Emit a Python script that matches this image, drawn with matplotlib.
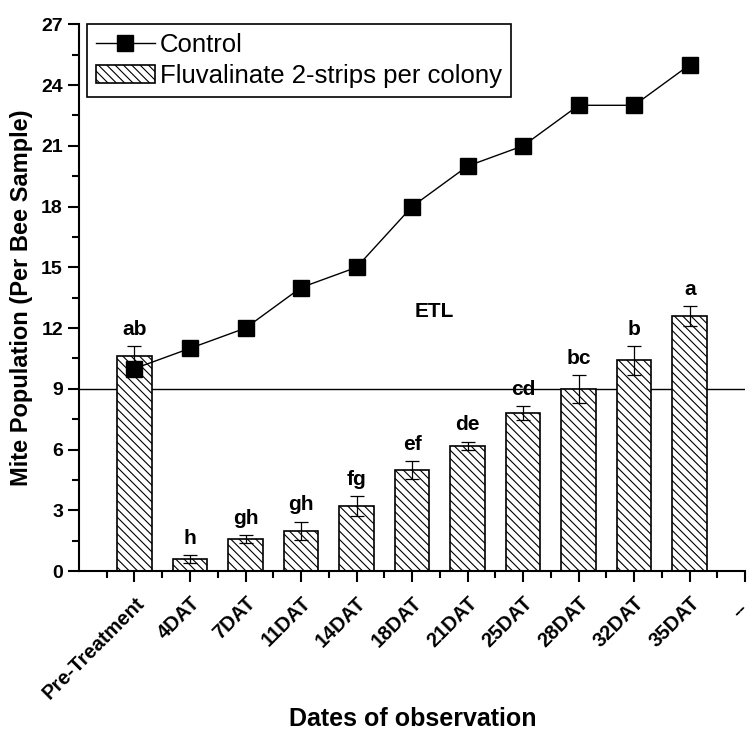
import matplotlib.pyplot as plt
import numpy as np

plt.rcParams['font.family'] = ['Liberation Sans', 'DejaVu Sans']
plt.rcParams['hatch.linewidth'] = 0.8

dates = ["Pre-Treatment", "4DAT", "7DAT", "11DAT", "14DAT", "18DAT",
         "21DAT", "25DAT", "28DAT", "32DAT", "35DAT", "--"]
control = [10, 11, 12, 14, 15, 18, 20, 21, 23, 23, 25]
fluvalinate = [10.6, 0.6, 1.6, 2.0, 3.2, 5.0, 6.2, 7.8, 9.0, 10.4, 12.6]
fluv_err = [0.5, 0.2, 0.2, 0.45, 0.5, 0.45, 0.2, 0.35, 0.7, 0.7, 0.5]
letters = ["ab", "h", "gh", "gh", "fg", "ef", "de", "cd", "bc", "b", "a"]
etl = 9

fig = plt.figure(figsize=(7.52, 7.36), dpi=100)
ax = fig.add_axes([0.105, 0.224, 0.886, 0.743])

x = np.arange(1, len(fluvalinate) + 1)
ax.plot(x, control, "-s", color="black", lw=1, ms=12, label="Control", zorder=4)
ax.bar(x, fluvalinate, width=0.62, color="white", edgecolor="black", hatch="\\\\\\\\",
       linewidth=1.2, label="Fluvalinate 2-strips per colony", zorder=2)
ax.errorbar(x, fluvalinate, yerr=fluv_err, fmt="none", ecolor="black",
            elinewidth=0.9, capsize=5, capthick=0.9, zorder=3)
ax.axhline(etl, color="black", lw=1, zorder=1)
ax.text(6.4, 12.8, "ETL", fontsize=15, fontweight="bold", ha="center", va="center")

for xi, v, e, lab in zip(x, fluvalinate, fluv_err, letters):
    ax.text(xi, v + e + 0.35, lab, fontsize=15, fontweight="bold", ha="center", va="bottom")

ax.set_xlim(0, 12)
ax.set_ylim(0, 27)
ax.set_yticks(np.arange(0, 28, 3))
ax.set_yticks(np.arange(1.5, 27, 3), minor=True)
ax.set_xticks(np.arange(1, 13))
ax.set_xticks(np.arange(0.5, 12, 1), minor=True)
ax.set_xticklabels(dates[:-1] + [""], rotation=45, ha="right", rotation_mode="anchor",
                   fontsize=14.5, fontweight="bold")
# last label pulled in a little so it stays inside the figure
ax.annotate(dates[-1], xy=(12, 0), xycoords=("data", "axes fraction"),
            xytext=(-5, -20), textcoords="offset points", rotation=45,
            ha="right", va="top", rotation_mode="anchor",
            fontsize=14.5, fontweight="bold")
for t in ax.get_yticklabels():
    t.set_fontweight("bold")
    t.set_fontsize(14)
ax.tick_params(axis="both", which="major", length=8, width=1.5, direction="out")
ax.tick_params(axis="x", which="major", pad=8)
ax.tick_params(axis="both", which="minor", length=5, width=1.5, direction="out")
ax.spines["top"].set_visible(False)
ax.spines["right"].set_visible(False)
ax.spines["left"].set_linewidth(1.5)
ax.spines["bottom"].set_linewidth(1.5)

fig.text(0.549, 0.023, "Dates of observation", fontsize=18, fontweight="bold",
         ha="center", va="center")
ax.set_ylabel("Mite Population (Per Bee Sample)", fontsize=17, fontweight="bold", labelpad=6)

leg = ax.legend(loc="upper left", bbox_to_anchor=(0.012, 1.0), borderaxespad=0,
                fontsize=18.5, fancybox=False, edgecolor="black", framealpha=1,
                handlelength=2.3, borderpad=0.35, labelspacing=0.25, handletextpad=0.2)
leg.get_frame().set_linewidth(1.2)

fig.savefig("out.png", dpi=100)
